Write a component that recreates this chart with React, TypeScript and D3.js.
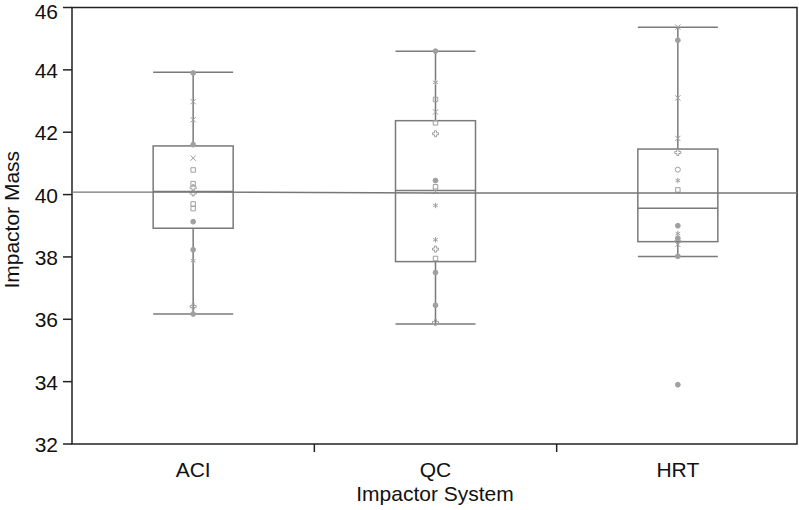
import React, { useEffect, useRef } from "react";
import * as d3 from "d3";

// categories and box statistics
const categories = ["ACI", "QC", "HRT"];
const whiskerLow = [36.17, 35.85, 38.01];
const boxLow = [38.92, 37.85, 38.49];
const medians = [40.1, 40.13, 39.56];
const boxHigh = [41.56, 42.37, 41.46];
const whiskerHigh = [43.92, 44.6, 45.37];
const groupMeans = [40.08, 40.05, 40.05];
const yTicks = [32, 34, 36, 38, 40, 42, 44, 46];

// individual observations (value, marker)
const aciPoints: [number, string][] = [
  [43.9, "dot"], [42.98, "x"], [42.4, "x"], [41.6, "dot"], [41.17, "x"],
  [40.79, "square"], [40.35, "square"], [40.22, "plus"], [40.05, "plus"],
  [39.7, "square"], [39.55, "square"], [39.13, "dot"], [38.23, "dot"],
  [37.88, "star"], [36.41, "plus"], [36.17, "dot"],
];
const qcPoints: [number, string][] = [
  [44.6, "dot"], [43.6, "star"], [43.05, "square"], [42.65, "x"],
  [42.3, "square"], [41.95, "plus"], [40.45, "dot"], [40.25, "square"],
  [40.1, "x"], [39.65, "star"], [38.55, "star"], [38.25, "plus"],
  [37.95, "square"], [37.5, "dot"], [36.45, "dot"], [35.9, "plus"],
];
const hrtPoints: [number, string][] = [
  [45.37, "x"], [44.95, "dot"], [43.1, "x"], [41.8, "x"], [41.35, "plus"],
  [40.8, "circle"], [40.45, "star"], [40.15, "square"], [39.0, "dot"],
  [38.75, "star"], [38.6, "dot"], [38.5, "plus"], [38.4, "x"],
  [38.02, "dot"], [33.9, "dot"],
];
const points = [aciPoints, qcPoints, hrtPoints];

const App = () => {
  const svgRef = useRef<SVGSVGElement>(null);

  useEffect(() => {
    document.body.style.margin = "0";
    const svg = d3.select(svgRef.current);
    svg.selectAll("*").remove();

    const left = 72;
    const right = 799;
    const top = 7.5;
    const bottom = 444;
    const font = "'Liberation Sans', Arial, sans-serif";
    const fontSize = "21px";

    const x = d3.scaleBand().domain(categories).range([left, right]);
    const y = d3.scaleLinear().domain([32, 46]).range([bottom, top]);
    const boxW = 80;
    const boxColor = "#7a7a7a";
    const markColor = "#a0a0a0";

    svg.append("rect").attr("width", 799).attr("height", 510).attr("fill", "#fff");

    // frame
    svg
      .append("rect")
      .attr("x", left)
      .attr("y", top)
      .attr("width", right - 2 - left)
      .attr("height", bottom - top)
      .attr("fill", "none")
      .attr("stroke", "#222")
      .attr("stroke-width", 1.5);

    // y axis ticks + labels
    yTicks.forEach((t) => {
      svg
        .append("line")
        .attr("x1", left - 9)
        .attr("x2", left)
        .attr("y1", y(t))
        .attr("y2", y(t))
        .attr("stroke", "#222")
        .attr("stroke-width", 1.5);
      // keep the top label inside the page
      svg
        .append("text")
        .attr("x", left - 14)
        .attr("y", Math.max(y(t) + 8, 19))
        .attr("text-anchor", "end")
        .style("font-family", font)
        .style("font-size", fontSize)
        .style("fill", "#111")
        .text(t);
    });

    // x dividers
    categories.slice(1).forEach((c) => {
      svg
        .append("line")
        .attr("x1", x(c)!)
        .attr("x2", x(c)!)
        .attr("y1", bottom)
        .attr("y2", bottom + 8)
        .attr("stroke", "#222")
        .attr("stroke-width", 1.5);
    });

    categories.forEach((c) => {
      svg
        .append("text")
        .attr("x", x(c)! + x.bandwidth() / 2)
        .attr("y", 477)
        .attr("text-anchor", "middle")
        .style("font-family", font)
        .style("font-size", fontSize)
        .style("fill", "#111")
        .text(c);
    });

    svg
      .append("text")
      .attr("x", 435)
      .attr("y", 501)
      .attr("text-anchor", "middle")
      .style("font-family", font)
      .style("font-size", fontSize)
      .style("fill", "#111")
      .text("Impactor System");

    svg
      .append("text")
      .attr("transform", `translate(19, ${(top + bottom) / 2 - 6}) rotate(-90)`)
      .attr("text-anchor", "middle")
      .style("font-family", font)
      .style("font-size", fontSize)
      .style("fill", "#111")
      .text("Impactor Mass");

    // mean connect line, extended to the frame edges
    const meanPts: [number, number][] = [
      [left, y(groupMeans[0])],
      ...categories.map((c, i) => [x(c)! + x.bandwidth() / 2, y(groupMeans[i])] as [number, number]),
      [right - 2, y(groupMeans[groupMeans.length - 1])],
    ];

    const symbolMap: Record<string, d3.SymbolType> = {
      dot: d3.symbolCircle,
      circle: d3.symbolCircle,
      square: d3.symbolSquare,
      plus: d3.symbolCross,
      x: d3.symbolX,
      star: d3.symbolAsterisk,
    };

    categories.forEach((c, i) => {
      const cx = x(c)! + x.bandwidth() / 2;
      const g = svg.append("g");

      // whisker stem
      g.append("line")
        .attr("x1", cx)
        .attr("x2", cx)
        .attr("y1", y(whiskerLow[i]))
        .attr("y2", y(whiskerHigh[i]))
        .attr("stroke", boxColor)
        .attr("stroke-width", 1.5);

      // caps
      [whiskerLow[i], whiskerHigh[i]].forEach((v) => {
        g.append("line")
          .attr("x1", cx - boxW / 2)
          .attr("x2", cx + boxW / 2)
          .attr("y1", y(v))
          .attr("y2", y(v))
          .attr("stroke", boxColor)
          .attr("stroke-width", 1.5);
      });

      // box
      g.append("rect")
        .attr("x", cx - boxW / 2)
        .attr("y", y(boxHigh[i]))
        .attr("width", boxW)
        .attr("height", y(boxLow[i]) - y(boxHigh[i]))
        .attr("fill", "#fff")
        .attr("stroke", boxColor)
        .attr("stroke-width", 1.5);

      g.append("line")
        .attr("x1", cx - boxW / 2)
        .attr("x2", cx + boxW / 2)
        .attr("y1", y(medians[i]))
        .attr("y2", y(medians[i]))
        .attr("stroke", boxColor)
        .attr("stroke-width", 1.5);

      // observations
      points[i].forEach(([v, m]) => {
        const isFilled = m === "dot";
        const sym = d3.symbol().type(symbolMap[m]).size(m === "dot" ? 18 : 20);
        g.append("path")
          .attr("d", sym()!)
          .attr("transform", `translate(${cx}, ${y(v)})`)
          .attr("fill", isFilled ? markColor : "none")
          .attr("stroke", markColor)
          .attr("stroke-width", 1);
      });
    });

    // mean line drawn over the boxes
    svg
      .append("path")
      .attr("d", d3.line()(meanPts))
      .attr("fill", "none")
      .attr("stroke", "#777")
      .attr("stroke-width", 1.4);
  }, []);

  return <svg ref={svgRef} width={799} height={510} style={{ display: "block" }} />;
};

export default App;
